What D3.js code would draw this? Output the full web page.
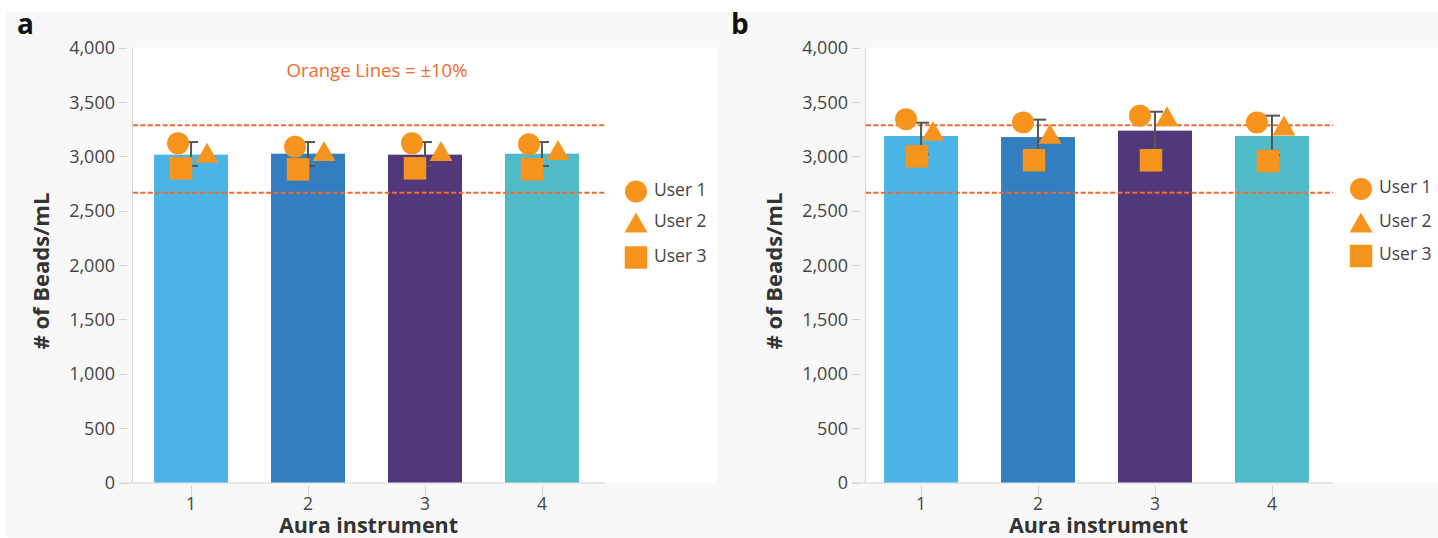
<!DOCTYPE html>
<html><head><meta charset="utf-8">
<script src="https://cdn.jsdelivr.net/npm/d3@7"></script>
<style>
html,body{margin:0;padding:0;background:#fff;}
svg{display:block;font-family:"Open Sans",sans-serif;}
</style></head><body>
<svg id="chart" width="1438" height="538"></svg>
<script>
// ---------- data ----------
const instruments = ["1", "2", "3", "4"];
const users = ["User 1", "User 2", "User 3"];
const yTickValues = [0, 500, 1000, 1500, 2000, 2500, 3000, 3500, 4000];
const limitLines = [2665, 3286];

const meanA = [3016, 3025, 3016, 3025];
const user1A = [3120, 3089, 3120, 3111];
const user2A = [3034, 3050, 3050, 3059];
const user3A = [2890, 2881, 2890, 2881];
const errLowA = [2912, 2912, 2912, 2912];
const errHighA = [3132, 3132, 3132, 3132];

const meanB = [3188, 3178, 3237, 3188];
const user1B = [3341, 3313, 3375, 3313];
const user2B = [3235, 3207, 3369, 3285];
const user3B = [3001, 2965, 2964, 2957];
const errLowB = [3019, 3043, 3063, 3010];
const errHighB = [3310, 3338, 3411, 3375];

const barColors = ["#4ab4e6", "#337ec0", "#51387b", "#4fbbc8"];
const markerColor = "#f7941e";
const limitColor = "#f26a30";

// ---------- drawing ----------
const svg = d3.select("#chart");
svg.append("rect").attr("x", 6).attr("y", 12).attr("width", 1432).attr("height", 525).attr("fill", "#f8f8f8");

const y = d3.scaleLinear().domain([0, 4000]).range([482.5, 47.7]);

const symCircle = d3.symbol().type(d3.symbolCircle).size(380)();
const symSquare = d3.symbol().type(d3.symbolSquare).size(506)();
const triSize = 229;
const symTriangle = d3.symbol().type(d3.symbolTriangle).size(triSize)();
const triH = Math.sqrt(4 * triSize / Math.sqrt(3)) * Math.sqrt(3) / 2;
const shapes = [symCircle, symTriangle, symSquare];
const shapeDy = [0, triH / 6, 0];

function drawPanel(cfg) {
  const g = svg.append("g");
  // plot area
  g.append("rect").attr("x", cfg.axisX).attr("y", y(4000)).attr("width", cfg.plotRight - cfg.axisX)
    .attr("height", y(0) - y(4000)).attr("fill", "#fff");

  const x = d3.scaleBand().domain(instruments).range(cfg.bandRange).paddingInner(0.3675).paddingOuter(0.18);

  // y axis
  const yAxis = g.append("g");
  yAxis.append("line").attr("x1", cfg.axisX + 0.5).attr("x2", cfg.axisX + 0.5)
    .attr("y1", y(4000)).attr("y2", y(0)).attr("stroke", "#d4d4d4").attr("stroke-width", 1);
  yAxis.selectAll("line.tick").data(yTickValues).join("line").attr("class", "tick")
    .attr("x1", cfg.axisX - 13).attr("x2", cfg.axisX - 5)
    .attr("y1", d => Math.round(y(d)) + 0.5).attr("y2", d => Math.round(y(d)) + 0.5)
    .attr("stroke", "#d4d4d4");
  yAxis.selectAll("text").data(yTickValues).join("text")
    .attr("x", cfg.axisX - 17).attr("y", d => y(d)).attr("dy", "0.36em")
    .attr("text-anchor", "end").attr("font-size", 18).attr("fill", "#444")
    .text(d => d3.format(",")(d));

  // x axis
  g.append("line").attr("x1", cfg.axisX - 13).attr("x2", cfg.axisEnd)
    .attr("y1", y(0) + 0.5).attr("y2", y(0) + 0.5).attr("stroke", "#d4d4d4");
  g.selectAll("line.xtick").data(instruments).join("line").attr("class", "xtick")
    .attr("x1", d => Math.round(x(d) + x.bandwidth() / 2) + 0.5).attr("x2", d => Math.round(x(d) + x.bandwidth() / 2) + 0.5)
    .attr("y1", y(0) + 3).attr("y2", y(0) + 14).attr("stroke", "#d4d4d4");
  g.selectAll("text.xlab").data(instruments).join("text").attr("class", "xlab")
    .attr("x", d => x(d) + x.bandwidth() / 2).attr("y", 510)
    .attr("text-anchor", "middle").attr("font-size", 17.5).attr("fill", "#444").text(d => d);

  // titles
  const midX = (x(instruments[0]) + x(instruments[3]) + x.bandwidth()) / 2;
  g.append("text").attr("x", midX + 2).attr("y", 533).attr("text-anchor", "middle")
    .attr("font-size", 21.5).attr("font-weight", 700).attr("fill", "#333").text("Aura instrument");
  g.append("text").attr("transform", `translate(${cfg.axisX - 83},${y(2000) + 6}) rotate(-90)`)
    .attr("text-anchor", "middle").attr("font-size", 22).attr("font-weight", 700).attr("fill", "#333")
    .text("# of Beads/mL");
  g.append("text").attr("x", cfg.letterX).attr("y", 34).attr("font-size", 28).attr("font-weight", 700)
    .attr("fill", "#111").text(cfg.letter);

  // bars
  g.selectAll("rect.bar").data(cfg.mean).join("rect").attr("class", "bar")
    .attr("x", (d, i) => x(instruments[i])).attr("width", x.bandwidth())
    .attr("y", d => y(d)).attr("height", d => y(0) - y(d))
    .attr("fill", (d, i) => barColors[i]);

  // limit lines
  g.selectAll("line.limit").data(limitLines).join("line").attr("class", "limit")
    .attr("x1", cfg.axisX + 1).attr("x2", cfg.axisEnd)
    .attr("y1", d => y(d)).attr("y2", d => y(d))
    .attr("stroke", limitColor).attr("stroke-width", 2).attr("stroke-dasharray", "5,2.4");

  // error bars
  const eb = g.append("g").attr("stroke", "#555").attr("stroke-width", 2).attr("fill", "none");
  instruments.forEach((c, i) => {
    const cx = x(c) + x.bandwidth() / 2;
    const lo = y(cfg.errLow[i]), hi = y(cfg.errHigh[i]);
    eb.append("line").attr("x1", cx).attr("x2", cx).attr("y1", hi).attr("y2", lo);
    eb.append("line").attr("x1", cx - cfg.cap).attr("x2", cx + cfg.cap).attr("y1", hi).attr("y2", hi);
    eb.append("line").attr("x1", cx - cfg.cap).attr("x2", cx + cfg.cap).attr("y1", lo).attr("y2", lo);
  });

  // markers
  const userSeries = [cfg.user1, cfg.user2, cfg.user3];
  userSeries.forEach((series, u) => {
    g.selectAll(null).data(series).join("path")
      .attr("d", shapes[u])
      .attr("transform", (d, i) => `translate(${x(instruments[i]) + x.bandwidth() / 2 + cfg.offsets[u]},${y(d) + shapeDy[u]})`)
      .attr("fill", markerColor);
  });

  // legend
  users.forEach((name, u) => {
    const ly = cfg.legendY[u];
    g.append("path").attr("d", shapes[u]).attr("transform", `translate(${cfg.legendX},${ly + shapeDy[u]})`).attr("fill", markerColor);
    g.append("text").attr("x", cfg.legendX + 18).attr("y", ly - 2).attr("dy", "0.36em")
      .attr("font-size", 17.5).attr("fill", "#444").text(name);
  });

  return {x, midX};
}

drawPanel({
  letter: "a", letterX: 17, axisX: 132, axisEnd: 605, plotRight: 717, bandRange: [133, 600],
  mean: meanA, user1: user1A, user2: user2A, user3: user3A, errLow: errLowA, errHigh: errHighA,
  offsets: [-13, 16, -10], cap: 7, legendX: 636, legendY: [191.5, 222.5, 257.5]
});
svg.append("text").attr("x", 377).attr("y", 77).attr("text-anchor", "middle").attr("font-size", 18.5)
  .attr("fill", limitColor).text("Orange Lines = \u00b110%");

drawPanel({
  letter: "b", letterX: 731, axisX: 865, axisEnd: 1333, plotRight: 1438, bandRange: [863, 1330],
  mean: meanB, user1: user1B, user2: user2B, user3: user3B, errLow: errLowB, errHigh: errHighB,
  offsets: [-15, 12, -4], cap: 8, legendX: 1361, legendY: [189, 222.5, 256]
});
</script>
</body></html>
